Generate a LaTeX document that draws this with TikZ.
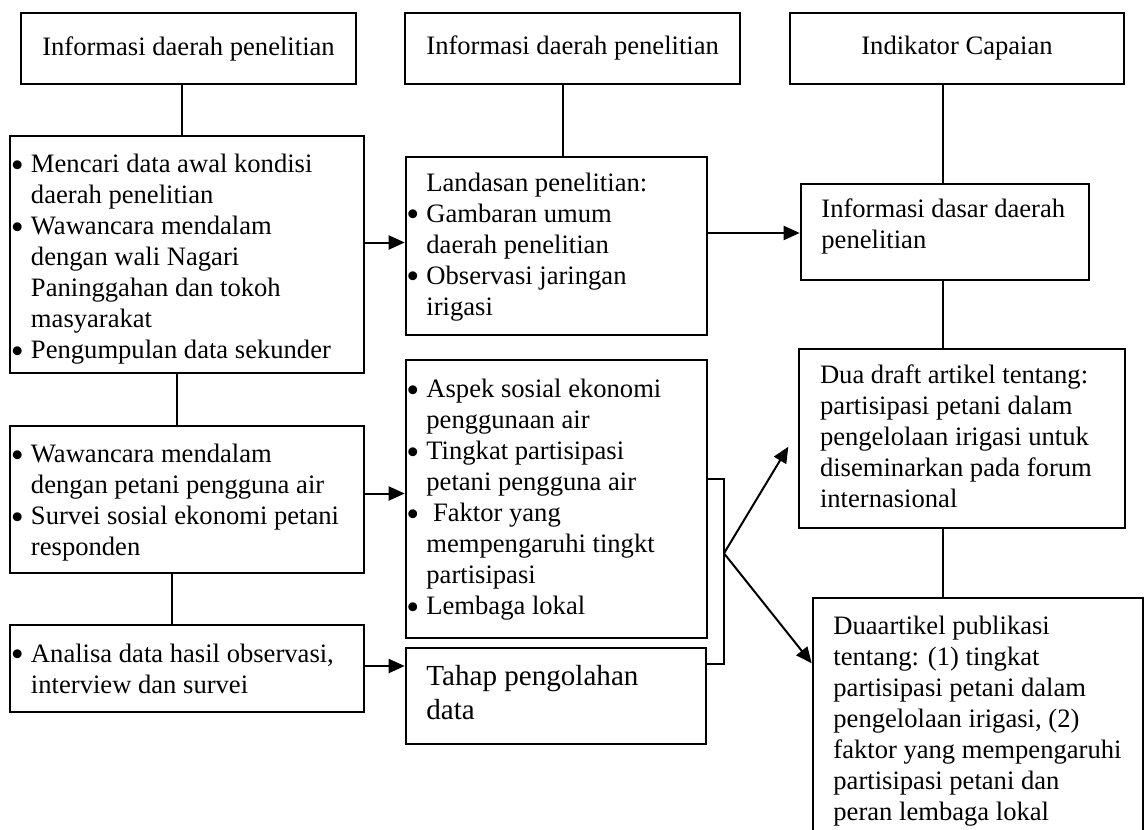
\documentclass[tikz,border=0pt]{standalone}
\usepackage{fontspec}
\setmainfont{Liberation Serif}
\usetikzlibrary{arrows.meta}
\newlength\pxu \setlength\pxu{0.5pt}
\newcommand\Fi[2]{\hbox to\hsize{\rule{0pt}{#1\pxu}#2\hfil}}
\newcommand\Li[1]{\hbox to\hsize{#1\hfil}}
\newcommand\Bu{\makebox[10.35pt][l]{\hspace{0.3pt}\raisebox{-2.2pt}{\fontsize{18.5pt}{18.5pt}\selectfont •}}}
\newcommand\In{\hspace*{10.35pt}}
\newcommand\Pb[3]{\parbox[t][#2\pxu][t]{#1\pxu}{#3}}
\begin{document}
\begin{tikzpicture}[x=0.5pt,y=-0.5pt,
  box/.style={draw, line width=1pt, inner sep=0pt, anchor=north west, font=\fontsize{13.3pt}{15.5pt}\selectfont},
  tbox/.style={box, align=center},
  ln/.style={line width=1pt},
  arr/.style={line width=1pt, -{Triangle[length=8pt,width=7pt]}}]
\useasboundingbox (0,0) rectangle (1144,829);

% title boxes
\node[tbox, minimum width=167.5pt, minimum height=35.5pt] (B1) at (20,12) {Informasi daerah penelitian};
\node[tbox, minimum width=167.65pt, minimum height=35.35pt] (B2) at (404,12) {Informasi daerah penelitian};
\node[tbox, minimum width=167.3pt, minimum height=35.35pt] (B3) at (788.7,12) {Indikator Capaian};

% left column
\node[box] (A) at (9.3,135) {\Pb{353.4}{237}{%
  \Fi{36.7}{\Bu Mencari data awal kondisi}
  \Li{\In daerah penelitian}
  \Li{\Bu Wawancara mendalam}
  \Li{\In dengan wali Nagari}
  \Li{\In Paninggahan dan tokoh}
  \Li{\In masyarakat}
  \Li{\Bu Pengumpulan data sekunder}}};
\node[box] (W) at (9.3,425) {\Pb{353.4}{147}{%
  \Fi{36.7}{\Bu Wawancara mendalam}
  \Li{\In dengan petani pengguna air}
  \Li{\Bu Survei sosial ekonomi petani}
  \Li{\In responden}}};
\node[box] (N) at (9.3,624.3) {\Pb{353.4}{86.7}{%
  \Fi{36.7}{\Bu Analisa data hasil observasi,}
  \Li{\In interview dan survei}}};

% middle column
\node[box] (L) at (404.7,155.7) {\Pb{301}{178.6}{%
  \Fi{34.3}{\In Landasan penelitian:}
  \Li{\Bu Gambaran umum}
  \Li{\In daerah penelitian}
  \Li{\Bu Observasi jaringan}
  \Li{\In irigasi}}};
\node[box] (S) at (404.7,359.3) {\Pb{301}{277.4}{%
  \Fi{37.4}{\Bu Aspek sosial ekonomi}
  \Li{\In penggunaan air}
  \Li{\Bu Tingkat partisipasi}
  \Li{\In petani pengguna air}
  \Li{\Bu\ Faktor yang}
  \Li{\In mempengaruhi tingkt}
  \Li{\In partisipasi}
  \Li{\Bu Lembaga lokal}}};
\node[box, font=\fontsize{14.55pt}{17pt}\selectfont] (T) at (404.7,646.7) {\Pb{300.3}{96.3}{%
  \Fi{37.3}{\In Tahap pengolahan}
  \Li{\In data}}};

% right column
\node[box] (D) at (799.7,182.7) {\Pb{288.3}{96}{%
  \Fi{34}{\In Informasi dasar daerah}
  \Li{\In penelitian}}};
\node[box] (R) at (798.3,347.7) {\Pb{325.7}{179.6}{%
  \Fi{35}{\In Dua draft artikel tentang:}
  \Li{\In partisipasi petani dalam}
  \Li{\In pengelolaan irigasi untuk}
  \Li{\In diseminarkan pada forum}
  \Li{\In internasional}}};
\node[box] (P) at (811.7,597.3) {\Pb{330.6}{245}{%
  \Fi{35.7}{\In Duaartikel publikasi}
  \Li{\In tentang: (1) tingkat}
  \Li{\In partisipasi petani dalam}
  \Li{\In pengelolaan irigasi, (2)}
  \Li{\In faktor yang mempengaruhi}
  \Li{\In partisipasi petani dan}
  \Li{\In peran lembaga lokal}}};

% helper coordinates
\coordinate (c1) at (182,0);
\coordinate (c2) at (177,0);
\coordinate (c3) at (172,0);
\coordinate (c4) at (563,0);
\coordinate (c5) at (943,0);
\coordinate (r1) at (0,242.5);
\coordinate (r2) at (0,493.5);
\coordinate (r3) at (0,666);
\coordinate (r4) at (0,233);
\coordinate (k1) at (724,479.3);
\coordinate (k2) at (724,664.3);
\coordinate (br) at (724,553.3);
\coordinate (t1) at (788.3,446.7);
\coordinate (r7) at (0,663.3);

% vertical connectors
\draw[ln] (B1.south -| c1) -- (A.north -| c1);
\draw[ln] (A.south -| c2) -- (W.north -| c2);
\draw[ln] (W.south -| c3) -- (N.north -| c3);
\draw[ln] (B2.south -| c4) -- (L.north -| c4);
\draw[ln] (B3.south -| c5) -- (D.north -| c5);
\draw[ln] (D.south -| c5) -- (R.north -| c5);
\draw[ln] (R.south -| c5) -- (P.north -| c5);

% horizontal arrows
\draw[arr] (A.east |- r1) -- (L.west |- r1);
\draw[arr] (W.east |- r2) -- (S.west |- r2);
\draw[arr] (N.east |- r3) -- (T.west |- r3);
\draw[arr] (L.east |- r4) -- (D.west |- r4);

% bracket and branches
\draw[ln] (S.east |- k1) -- (k1) -- (k2) -- (T.east |- k2);
\draw[arr] (br) -- (t1);
\draw[arr] (br) -- (P.west |- r7);
\end{tikzpicture}
\end{document}
